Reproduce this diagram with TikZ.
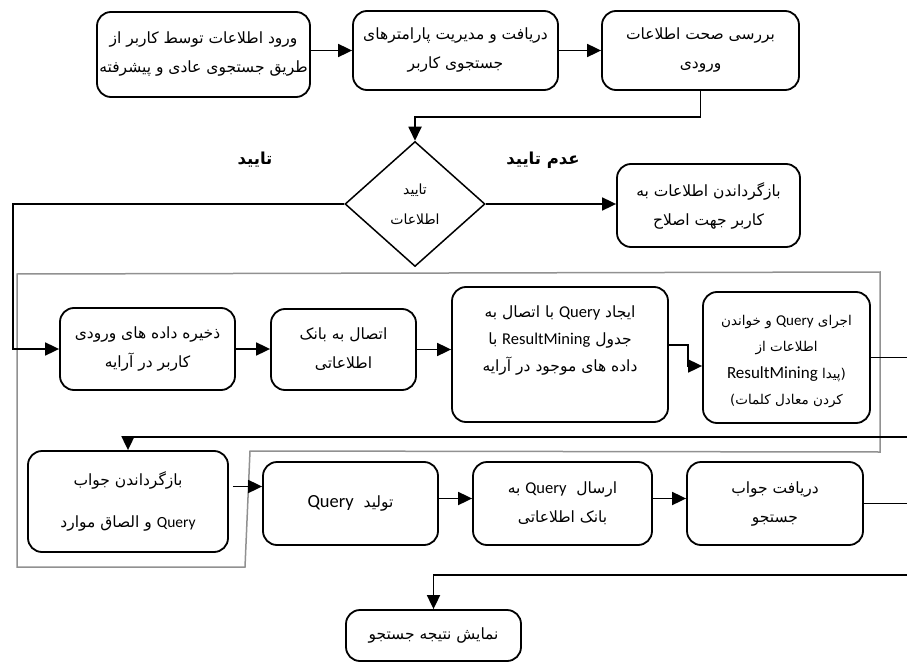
\documentclass[tikz,border=0pt]{standalone}
\usepackage{fontspec}
\usetikzlibrary{arrows.meta,shapes.geometric,calc}
\TeXXeTstate=1
\newfontfamily\fafont[Script=Arabic]{DejaVu Sans}
\newfontfamily\qfont{Carlito}
\newcommand\qq[2][16.5]{\beginL{\qfont\fontsize{#1}{18}\selectfont #2}\endL}
\definecolor{grpcol}{RGB}{145,145,145}
\begin{document}
\begin{tikzpicture}[x=1pt,y=-1pt,
  box/.style={draw=black, line width=1.8pt, rounded corners=14pt, align=center, inner sep=0pt,
    font=\fafont\fontsize{15.5}{29}\selectfont},
  conn/.style={line width=1.8pt, -{Triangle[length=14pt,width=13pt]}},
  plainline/.style={line width=1.8pt},
  lbl/.style={font=\fafont\bfseries\fontsize{16.5}{18}\selectfont},
  grp/.style={draw=grpcol, line width=1.5pt}
]
\useasboundingbox (0,0) rectangle (907,663);
% group outline
\draw[grp] (17,274) -- (880,272) -- (880,452) -- (250,451) -- (245,567) -- (17,567) -- cycle;
% row 1
\node[box, minimum width=213, minimum height=85] (A) at (203.5,54.5) {\beginR ورود اطلاعات توسط کاربر از\endR\\\beginR طریق جستجوی عادی و پیشرفته\endR};
\node[box, minimum width=205, minimum height=79] (B) at (455.5,50.5) {\beginR دریافت و مدیریت پارامترهای\endR\\\beginR جستجوی کاربر\endR};
\node[box, minimum width=197, minimum height=79] (C) at (700.5,50.5) {\beginR بررسی صحت اطلاعات\endR\\\beginR ورودی\endR};
% decision
\node[diamond, draw=black, line width=1.5pt, minimum width=140, minimum height=125, inner sep=0pt, align=center,
  font=\fafont\fontsize{14}{30}\selectfont] (dia) at (415,204) {\beginR تایید\endR\\\beginR اطلاعات\endR};
\node[box, minimum width=183, minimum height=83] (R) at (708.5,205.5) {\beginR بازگرداندن اطلاعات به\endR\\\beginR کاربر جهت اصلاح\endR};
\node[lbl] (ok) at (255,160) {\beginR تایید\endR};
\node[lbl] (nok) at (543,160) {\beginR عدم تایید\endR};
% row 2
\node[box, minimum width=175, minimum height=82] (D) at (147.5,349) {\beginR ذخیره داده های ورودی\endR\\\beginR کاربر در آرایه\endR};
\node[box, minimum width=145, minimum height=81] (E) at (343.5,349.5) {\beginR اتصال به بانک\endR\\\beginR اطلاعاتی\endR};
\node[box, minimum width=216, minimum height=135,
  label={[name=Ft, align=center, yshift=14pt, font=\fafont\fontsize{15.5}{27}\selectfont]center:{\beginR ایجاد \qq{Query} با اتصال به\endR\\\beginR جدول \qq{ResultMining} با\endR\\\beginR داده های موجود در آرایه\endR}}] (F) at (560,354.5) {};
\node[box, minimum width=167, minimum height=131,
  label={[name=Gt, align=center, yshift=-4pt, font=\fafont\fontsize{13.5}{26.5}\selectfont]center:{\beginR اجرای \qq[15]{Query} و خواندن\endR\\\beginR اطلاعات از\endR\\\beginR (پیدا \qq[17]{ResultMining}\endR\\\beginR کردن معادل کلمات)\endR}}] (G) at (786.5,357.5) {};
% row 3
\node[box, minimum width=200, minimum height=101] (H) at (128,501.5) {\beginR بازگرداندن جواب\endR\\[13pt]\beginR \qq[15.5]{Query} و الصاق موارد\endR};
\node[box, minimum width=175, minimum height=83] (I) at (350.5,503.5) {\beginR تولید \ \qq[18.5]{Query}\endR};
\node[box, minimum width=179, minimum height=83] (J) at (562.5,503.5) {\beginR ارسال \ \qq{Query} به\endR\\\beginR بانک اطلاعاتی\endR};
\node[box, minimum width=176, minimum height=83] (K) at (775,503.5) {\beginR دریافت جواب\endR\\\beginR جستجو\endR};
\node[box, minimum width=175, minimum height=51] (L) at (433.5,635.5) {\beginR نمایش نتیجه جستجو\endR};
% free ends
\coordinate (g1) at (907,357.5);
\coordinate (r1) at (907,437);
\coordinate (k1) at (907,503.5);
\coordinate (l1) at (907,575);
% connectors
\draw[conn] (A.east |- B.west) -- (B.west);
\draw[conn] (B.east) -- (C.west);
\draw[conn] (C.south) -- ++(0,26) -| (dia.north);
\draw[conn] (dia.west) -- ++(-331,0) |- (D.west);
\draw[conn] (dia.east) -- (dia.east -| R.west);
\draw[conn] (D.east) -- (D.east -| E.west);
\draw[conn] (E.east) -- (E.east -| F.west);
\draw[conn] ([yshift=9.5pt]F.east) -- ++(19,0) |- ([yshift=-8.5pt]G.west);
\draw[plainline] (G.east) -- (g1);
\draw[conn] (r1) -| (H.north);
\draw[conn] ([shift={(4pt,15pt)}]H.east) -- ([yshift=15pt]H.east -| I.west);
\draw[conn] ([yshift=5pt]I.east) -- ([yshift=5pt]I.east -| J.west);
\draw[conn] ([yshift=5pt]J.east) -- ([yshift=5pt]J.east -| K.west);
\draw[plainline] (K.east) -- (k1);
\draw[conn] (l1) -| (L.north);
\end{tikzpicture}
\end{document}
